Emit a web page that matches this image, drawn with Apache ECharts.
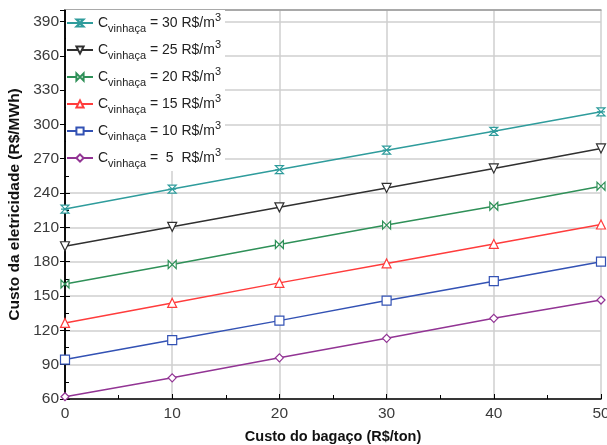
<!DOCTYPE html>
<html><head><meta charset="utf-8">
<script src="https://cdn.jsdelivr.net/npm/echarts@6/dist/echarts.min.js"></script>
<style>html,body{margin:0;padding:0;background:#fff}#c{width:607px;height:445px}</style>
</head><body><div id="c"></div>
<script>
const xValues = [0, 10, 20, 30, 40, 50];
const seriesLabels = ['30', '25', '20', '15', '10', ' 5'];
const s30 = [226, 243.5, 260.5, 277.5, 294, 311];
const s25 = [193.5, 210.5, 227.5, 244.5, 261.5, 279];
const s20 = [160.5, 177.5, 195, 212, 228.5, 246];
const s15 = [126.5, 144, 161.5, 178.5, 195.5, 212.5];
const s10 = [94.5, 111.5, 128.5, 146, 163, 180];
const s5 = [62, 78.5, 96, 113, 130.5, 146.5];
const allValues = [s30, s25, s20, s15, s10, s5];

const colors = ['#2f9c9c', '#303030', '#2f9058', '#ff3c3c', '#3352b4', '#923494'];
const symbols = [
  'path://M0,0 L10,0 L0,10 L10,10 Z M0,5 L10,5',
  'triangle',
  'path://M0,0 L0,10 L10,0 L10,10 Z',
  'triangle',
  'rect',
  'diamond'
];
const rotations = [0, 180, 0, 0, 0, 0];
const sizes = [8, 9, 8, 9, 9, 8];
const font = 'Arial, "Liberation Sans", sans-serif';

const series = allValues.map((vals, i) => ({
  name: 'S' + i,
  type: 'line',
  data: xValues.map((x, j) => [x, vals[j]]),
  symbol: symbols[i],
  symbolSize: sizes[i],
  symbolRotate: rotations[i],
  showAllSymbol: true,
  lineStyle: { color: colors[i], width: 1.5 },
  itemStyle: { color: '#fff', borderColor: colors[i], borderWidth: 1.2 },
  emphasis: { disabled: true },
  z: 3
}));

const chart = echarts.init(document.getElementById('c'), null, { renderer: 'canvas' });
chart.setOption({
  animation: false,
  backgroundColor: '#fff',
  grid: { left: 65, right: 6, top: 10, bottom: 46, outerBoundsMode: 'none', containLabel: false },
  legend: {
    orient: 'vertical',
    left: 66, top: 10,
    backgroundColor: '#fff',
    padding: [2, 4, 2, 0],
    itemGap: 5,
    itemWidth: 26, itemHeight: 9,
    data: series.map(s => s.name),
    formatter: function (name) {
      const i = +name.slice(1);
      return '{c|C}{s|vinhaça}{t| = ' + seriesLabels[i] + (i === 5 ? '  ' : ' ') + 'R$/m}{p|3}';
    },
    textStyle: {
      fontFamily: font, color: '#222',
      rich: {
        c: { fontSize: 14, fontFamily: font, lineHeight: 22, verticalAlign: 'middle', color: '#222' },
        s: { fontSize: 11, fontFamily: font, lineHeight: 10, verticalAlign: 'bottom', color: '#222' },
        t: { fontSize: 14, fontFamily: font, lineHeight: 22, verticalAlign: 'middle', color: '#222' },
        p: { fontSize: 11, fontFamily: font, lineHeight: 10, verticalAlign: 'top', color: '#222' }
      }
    }
  },
  xAxis: [{
    type: 'value', min: 0, max: 50, interval: 10,
    name: 'Custo do bagaço (R$/ton)', nameLocation: 'middle', nameGap: 30,
    nameTextStyle: { fontFamily: font, fontSize: 14.5, fontWeight: 'bold', color: '#111' },
    axisLine: { show: true, lineStyle: { color: '#000', width: 1.5 } },
    axisTick: { show: true, inside: true, length: 5, lineStyle: { color: '#000' } },
    minorTick: { show: true, splitNumber: 2, length: 4, lineStyle: { color: '#000' } },
    axisLabel: { fontFamily: font, fontSize: 15.5, color: '#3a3a3a', margin: 7 },
    splitLine: { show: true, lineStyle: { color: '#cfcfcf', width: 1.5 } }
  }, {
    type: 'value', min: 0, max: 50, interval: 10, position: 'top',
    axisLine: { show: true, lineStyle: { color: '#999', width: 1.5 } },
    axisTick: { show: false }, axisLabel: { show: false }, splitLine: { show: false }
  }],
  yAxis: [{
    type: 'value', min: 60, max: 400, interval: 30,
    name: 'Custo da eletricidade (R$/MWh)', nameLocation: 'middle', nameGap: 37, nameRotate: 90,
    nameTextStyle: { fontFamily: font, fontSize: 15.5, fontWeight: 'bold', color: '#111' },
    axisLine: { show: true, lineStyle: { color: '#000', width: 1.5 } },
    axisTick: { show: true, inside: true, length: 5, lineStyle: { color: '#000' } },
    minorTick: { show: true, splitNumber: 2, length: 4, lineStyle: { color: '#000' } },
    axisLabel: { fontFamily: font, fontSize: 15.5, color: '#3a3a3a', margin: 6, showMaxLabel: false },
    splitLine: { show: true, lineStyle: { color: '#cfcfcf', width: 1.5 } }
  }, {
    type: 'value', min: 60, max: 400, interval: 30, position: 'right',
    axisLine: { show: true, lineStyle: { color: '#000', width: 1.5 } },
    axisTick: { show: true, inside: true, length: 5, lineStyle: { color: '#000' } },
    minorTick: { show: false },
    axisLabel: { show: false }, splitLine: { show: false }
  }],
  series: series
});
</script></body></html>
